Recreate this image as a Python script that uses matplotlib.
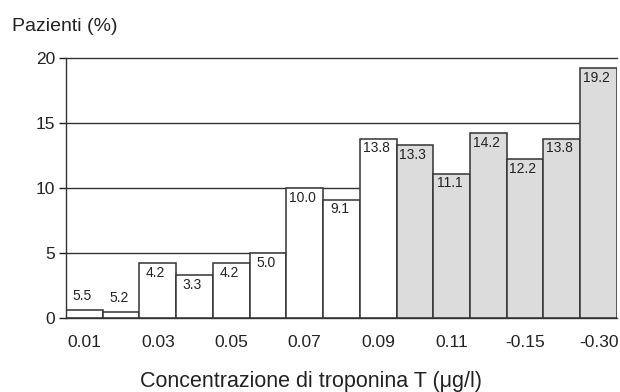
import numpy as np
import matplotlib.pyplot as plt

plt.rcParams['font.family'] = ['Liberation Sans', 'DejaVu Sans']

# bar heights as drawn (the first two bars are drawn very short in the original)
heights = [0.58, 0.45, 4.2, 3.3, 4.2, 5.0, 10.0, 9.1, 13.8,
           13.3, 11.1, 14.2, 12.2, 13.8, 19.2]
labels = ['5.5', '5.2', '4.2', '3.3', '4.2', '5.0', '10.0', '9.1', '13.8',
          '13.3', '11.1', '14.2', '12.2', '13.8', '19.2']
n_white = 9
tick_labels = ['0.01', '0.03', '0.05', '0.07', '0.09', '0.11', '-0.15', '-0.30']

x = np.arange(len(heights))
colors = ['white'] * n_white + ['#dcdcdc'] * (len(heights) - n_white)

fig = plt.figure(figsize=(6.2, 3.92), dpi=100)
ax = fig.add_axes([0.1065, 0.189, 0.8885, 0.663])

# horizontal grid lines behind the bars
for yv in [5, 10, 15]:
    ax.axhline(yv, color='#333333', lw=1.0, zorder=0)

ax.bar(x, heights, width=1.0, color=colors, edgecolor='#333333',
       linewidth=1.1, zorder=2)

for xi, h, lab in zip(x, heights, labels):
    if h < 1:
        off = 10
    else:
        off = -7
    ax.annotate(lab, xy=(xi, h), xytext=(-1.5, off), textcoords='offset points',
                ha='center', va='center', fontsize=10, color='#222222', zorder=3)

ax.set_xlim(-0.5, len(heights) - 0.5)
ax.set_ylim(0, 20)
ax.set_yticks([0, 5, 10, 15, 20])
ax.set_xticks(x[::2])
ax.set_xticklabels(tick_labels)
ax.tick_params(axis='x', length=0, pad=12, labelsize=12.5, colors='#222222')
ax.tick_params(axis='y', length=5, width=1, pad=3, labelsize=12.5, colors='#222222')

for s in ['left', 'bottom', 'top']:
    ax.spines[s].set_color('#333333')
    ax.spines[s].set_linewidth(1.0)
ax.spines['right'].set_visible(False)

fig.text(0.019, 0.921, 'Pazienti (%)', fontsize=14, color='#222222', va='baseline')
fig.text(0.502, 0.014, 'Concentrazione di troponina T (μg/l)', fontsize=15.5,
         color='#222222', ha='center', va='baseline')

fig.savefig('out.png', dpi=100)
